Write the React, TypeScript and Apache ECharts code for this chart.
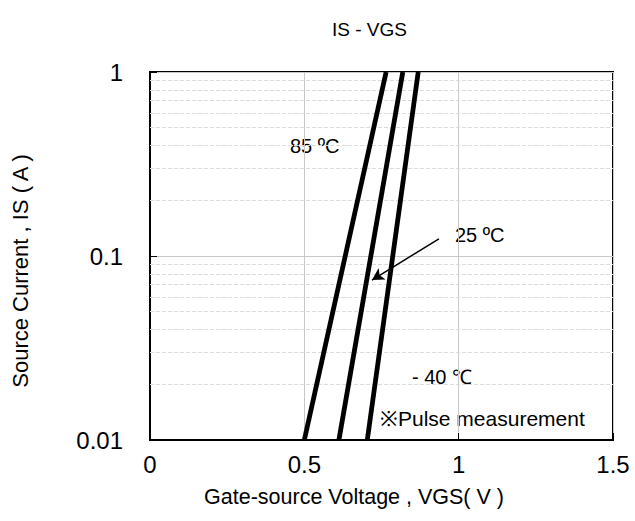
import React, { useEffect, useRef } from "react";
import * as echarts from "echarts";

const FONT = "'Liberation Sans', Arial, sans-serif";

const xTicks = [0, 0.5, 1, 1.5];
const yTicks = [0.01, 0.1, 1];
const yMinorGrid = [0.02, 0.03, 0.04, 0.05, 0.06, 0.07, 0.08, 0.09, 0.2, 0.3, 0.4, 0.5, 0.6, 0.7, 0.8, 0.9];

const seriesNames = ["85 ºC", "25 ºC", "- 40 ℃"];
const curve85 = [[0.5, 0.01], [0.765, 1]];
const curve25 = [[0.612, 0.01], [0.819, 1]];
const curveM40 = [[0.704, 0.01], [0.869, 1]];
const arrowFrom = [0.936, 0.124];
const arrowTo = [0.719, 0.074];

export default function App() {
  const ref = useRef<HTMLDivElement>(null);
  useEffect(() => {
    document.body.style.margin = "0";
    const chart = echarts.init(ref.current!, undefined, { renderer: "svg" });
    const lineSeries = (name: string, data: number[][], extra: any = {}) => ({
      name,
      type: "line",
      data,
      showSymbol: false,
      symbol: "none",
      lineStyle: { color: "#000", width: 4.8 },
      z: 3,
      ...extra,
    });
    chart.setOption({
      animation: false,
      title: {
        text: "IS - VGS",
        left: 327,
        top: 15,
        textStyle: { fontFamily: FONT, fontSize: 19, fontWeight: "normal", color: "#000" },
      },
      grid: {
        left: 150,
        right: 22,
        top: 72,
        bottom: 81,
        show: true,
        borderColor: "#000",
        borderWidth: 2,
        backgroundColor: "transparent",
      },
      xAxis: {
        type: "value",
        min: 0,
        max: 1.5,
        interval: 0.5,
        axisLine: { show: true, lineStyle: { color: "#000", width: 2 } },
        axisTick: { show: true, inside: true, length: 7, lineStyle: { color: "#000" } },
        axisLabel: {
          fontFamily: FONT,
          fontSize: 24,
          color: "#000",
          margin: 12,
          formatter: (v: number) => (xTicks.includes(v) ? String(v) : ""),
        },
        splitLine: { show: true, lineStyle: { color: "#c8c8c8", width: 1 } },
      },
      yAxis: {
        type: "log",
        logBase: 10,
        min: yTicks[0],
        max: yTicks[yTicks.length - 1],
        axisLine: { show: true, lineStyle: { color: "#000", width: 2 } },
        axisTick: { show: true, inside: true, length: 7, lineStyle: { color: "#000" } },
        axisLabel: {
          fontFamily: FONT,
          fontSize: 24,
          color: "#000",
          margin: 27,
          formatter: (v: number) => {
            const t = yTicks.find((k) => Math.abs(k - v) / k < 1e-6);
            return t !== undefined ? String(t) : "";
          },
        },
        splitLine: { show: true, lineStyle: { color: "#c8c8c8", width: 1 } },
        minorTick: { show: false },
        minorSplitLine: { show: false },
      },
      series: [
        {
          type: "line",
          data: [],
          silent: true,
          z: 1,
          markLine: {
            silent: true,
            symbol: "none",
            z: 1,
            label: { show: false },
            lineStyle: { color: "#dadada", type: [4, 2], width: 1 },
            data: yMinorGrid.map((v) => ({ yAxis: v })),
          },
        },
        lineSeries(seriesNames[0], curve85),
        lineSeries(seriesNames[1], curve25, {
          markLine: {
            silent: true,
            symbol: ["none", "arrow"],
            symbolSize: [10, 12],
            label: { show: false },
            lineStyle: { color: "#000", width: 1.5, type: "solid" },
            data: [[{ coord: arrowFrom }, { coord: arrowTo }]],
          },
        }),
        lineSeries(seriesNames[2], curveM40),
      ],
      graphic: [
        {
          type: "text",
          x: 20,
          y: 271,
          rotation: Math.PI / 2,
          style: {
            text: "Source Current , IS ( A )",
            fontFamily: FONT,
            fontSize: 22,
            fill: "#000",
            align: "center",
            verticalAlign: "middle",
          },
        },
        {
          type: "text",
          x: 354,
          y: 497,
          style: {
            text: "Gate-source Voltage , VGS( V )",
            fontFamily: FONT,
            fontSize: 21.5,
            fill: "#000",
            align: "center",
            verticalAlign: "middle",
          },
        },
        {
          type: "text",
          x: 290,
          y: 146,
          style: { text: seriesNames[0], fontFamily: FONT, fontSize: 20, fill: "#000", verticalAlign: "middle" },
        },
        {
          type: "text",
          x: 455,
          y: 235,
          style: { text: seriesNames[1], fontFamily: FONT, fontSize: 20, fill: "#000", verticalAlign: "middle" },
        },
        {
          type: "text",
          x: 412,
          y: 377,
          style: { text: seriesNames[2], fontFamily: FONT, fontSize: 20, fill: "#000", verticalAlign: "middle" },
        },
        {
          type: "text",
          x: 380,
          y: 418,
          style: {
            text: "※Pulse measurement",
            fontFamily: FONT,
            fontSize: 21,
            fill: "#000",
            verticalAlign: "middle",
          },
        },
      ],
    });
    return () => chart.dispose();
  }, []);
  return <div ref={ref} style={{ width: 635, height: 521 }} />;
}
